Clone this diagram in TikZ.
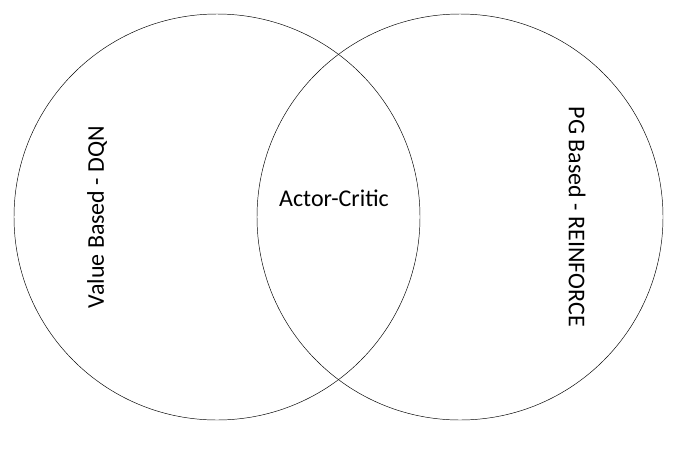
\documentclass[tikz,border=0pt]{standalone}
\usepackage{fontspec}
\setmainfont{Carlito}
\begin{document}
\begin{tikzpicture}[x=0.03cm, y=-0.03cm]
\def\rad{203};
\def\yc{217};
\def\xa{217};
\def\xb{460};

\useasboundingbox (0,0) rectangle (680,449);

% circles
\draw (\xa, \yc) circle [radius=\rad];
\draw (\xb, \yc) circle [radius=\rad];

% labels
\node[rotate=90, font=\fontsize{20.5}{24}\selectfont] (value) at (97, \yc) {Value Based - DQN};
\node[rotate=-90, font=\fontsize{20.5}{24}\selectfont] (pg) at (577, \yc) {PG Based - REINFORCE};
\node[font=\fontsize{20.5}{24}\selectfont] (ac) at (334, 198) {Actor-Critic};

\end{tikzpicture}
\end{document}
